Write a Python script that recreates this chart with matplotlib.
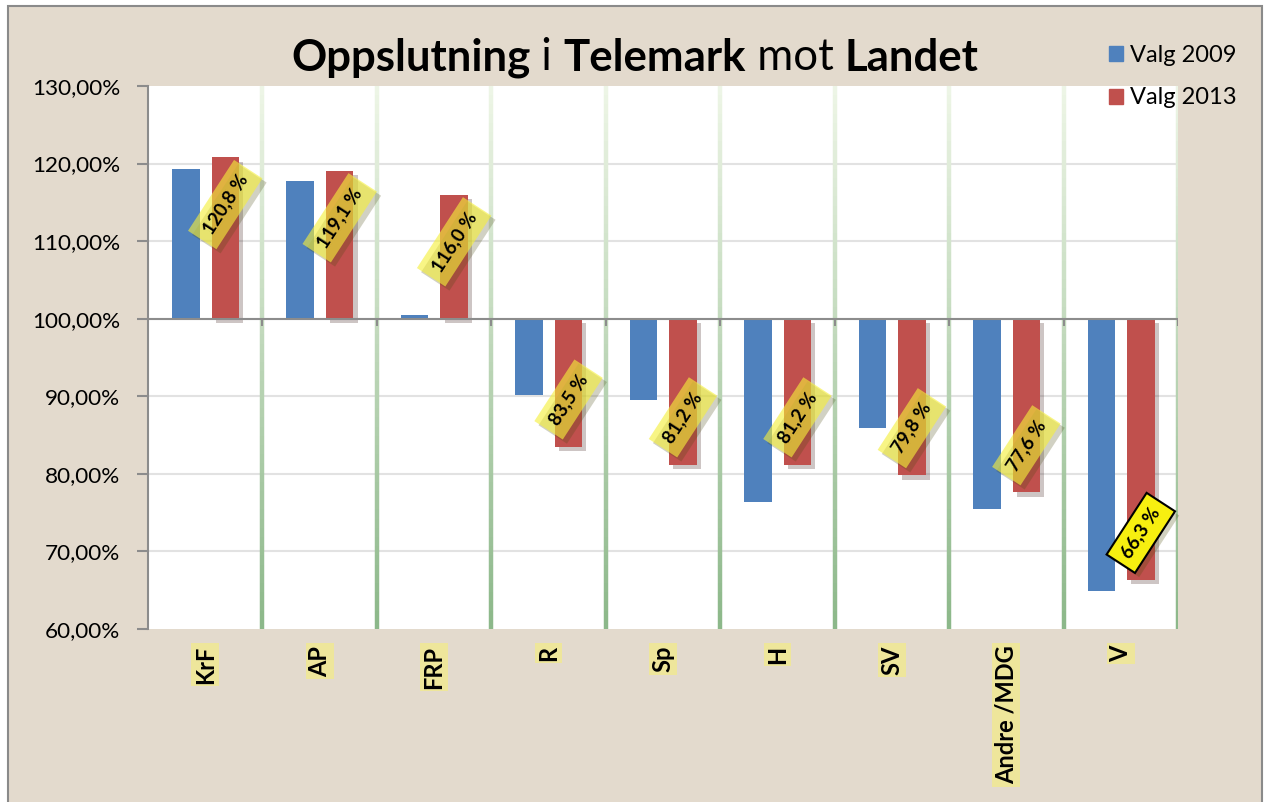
import numpy as np
import matplotlib
matplotlib.use('Agg')
import matplotlib.pyplot as plt
from matplotlib.patches import Patch, Rectangle
from matplotlib.collections import LineCollection
from matplotlib import patheffects as pe

# data
parties = ['KrF', 'AP', 'FRP', 'R', 'Sp', 'H', 'SV', 'Andre /MDG', 'V']
valg_2009 = [119.3, 117.8, 100.5, 90.2, 89.5, 76.4, 85.9, 75.5, 64.9]
valg_2013 = [120.8, 119.1, 116.0, 83.5, 81.2, 81.2, 79.8, 77.6, 66.3]
label_2013 = ['120,8 %', '119,1 %', '116,0 %', '83,5 %', '81,2 %', '81,2 %', '79,8 %', '77,6 %', '66,3 %']
yticks = [60, 70, 80, 90, 100, 110, 120, 130]

BLUE = '#4f81bd'
RED = '#c0504d'
BEIGE = '#e3dacd'

W, H = 1269, 802
fig = plt.figure(figsize=(W / 100, H / 100), dpi=100, facecolor='white')
fig.patches.append(Rectangle((8 / W, -0.02), (1262 - 8) / W, (H - 6) / H + 0.02,
                             transform=fig.transFigure, facecolor=BEIGE,
                             edgecolor='#8a8a8a', lw=1.5, zorder=-10))

ax = fig.add_axes([148 / W, 1 - 629 / H, (1178 - 148) / W, (629 - 86) / H])
ax.set_facecolor('white')

x = np.arange(len(parties))
ax.set_xlim(-0.5, len(parties) - 0.5)
ax.set_ylim(60, 130)

# horizontal grid
for yv in yticks[1:-1]:
    ax.axhline(yv, color='#e2e2e2', lw=1.5, zorder=0)

# green gradient vertical separators
for b in np.arange(0.5, len(parties), 1.0):
    ys = np.linspace(60, 130, 60)
    segs = [[(b, ys[k]), (b, ys[k + 1])] for k in range(len(ys) - 1)]
    t = np.linspace(1, 0, len(segs))
    c0 = np.array([0.55, 0.72, 0.54])
    c1 = np.array([0.93, 0.96, 0.90])
    cols = [tuple(c0 * tt + c1 * (1 - tt)) for tt in t]
    ax.add_collection(LineCollection(segs, colors=cols, lw=3.2, zorder=1,
                                     capstyle='butt'))

# bars from 100 %
w = 0.24
ax.bar(x - 0.17, np.array(valg_2009) - 100, w, bottom=100, color=BLUE,
       zorder=3, label='Valg 2009')
rb = ax.bar(x + 0.175, np.array(valg_2013) - 100, w, bottom=100, color=RED,
            zorder=3, label='Valg 2013')
for p in rb:
    p.set_path_effects([pe.SimplePatchShadow(offset=(3, -3), alpha=0.25), pe.Normal()])

# axis line at 100 % with small ticks
ax.axhline(100, color='#8c8c8c', lw=1.5, zorder=4)
ax.vlines(np.arange(0.5, len(parties), 1.0), 99.0, 100, color='#8c8c8c', lw=1.5, zorder=4)

# data labels
for i, (v, lab) in enumerate(zip(valg_2013, label_2013)):
    off = -34 if v > 100 else 34
    last = i == len(parties) - 1
    fc = '#f7ef10' if last else '#f5ef3a'
    alpha = 1.0 if last else 0.62
    t = ax.annotate(lab, (x[i] + 0.175, v), xytext=(0, off), textcoords='offset points',
                    ha='center', va='center', rotation=57, fontsize=13.5,
                    fontweight='bold', family='Lato', zorder=6,
                    bbox=dict(boxstyle='square,pad=0.45', fc=fc, alpha=alpha,
                              ec='black' if last else 'none', lw=1.5))
    t.get_bbox_patch().set_path_effects([pe.SimplePatchShadow(offset=(3, -3), alpha=0.25),
                                         pe.Normal()])

# axes styling
for s in ['top', 'right', 'bottom']:
    ax.spines[s].set_visible(False)
ax.spines['left'].set_color('#8c8c8c')
ax.spines['left'].set_linewidth(1.5)
ax.set_yticks(yticks)
ax.set_yticklabels([f'{v:.2f}'.replace('.', ',') + '%' for v in yticks],
                   family='Lato', fontsize=16.2)
ax.tick_params(axis='y', length=8, width=1.5, color='#8c8c8c', pad=12)
ax.set_xticks([])

# category labels
for i, p in enumerate(parties):
    ax.annotate(p, (x[i], 60), xytext=(0, -12), textcoords='offset points',
                ha='center', va='top', rotation=90, fontsize=17,
                fontweight='bold', family='Lato', annotation_clip=False,
                bbox=dict(boxstyle='square,pad=0.1', fc='#eee69b', ec='none'))

# legend
handles = [Patch(color=BLUE, label='Valg 2009'), Patch(color=RED, label='Valg 2013')]
fig.legend(handles=handles, loc='upper left', bbox_to_anchor=(1088 / W, 1 - 24 / H),
           frameon=False, prop={'family': 'Lato', 'size': 17}, handlelength=0.6,
           handleheight=0.6, handletextpad=0.3, labelspacing=0.9)

# title with mixed weights
parts = [('Oppslutning', 'bold'), (' i ', 'normal'), ('Telemark', 'bold'),
         (' mot ', 'normal'), ('Landet', 'bold')]
fs = 31.5
renderer = fig.canvas.get_renderer()
texts = []
for s, wgt in parts:
    texts.append(fig.text(0, 1 - 58 / H, s, fontsize=fs, fontweight=wgt,
                          family='Lato', va='center', ha='left'))
widths = [t.get_window_extent(renderer).width for t in texts]
xpos = 635 - sum(widths) / 2
for t, wd in zip(texts, widths):
    t.set_x(xpos / W)
    xpos += wd

fig.savefig('out.png', dpi=100, facecolor=fig.get_facecolor())
